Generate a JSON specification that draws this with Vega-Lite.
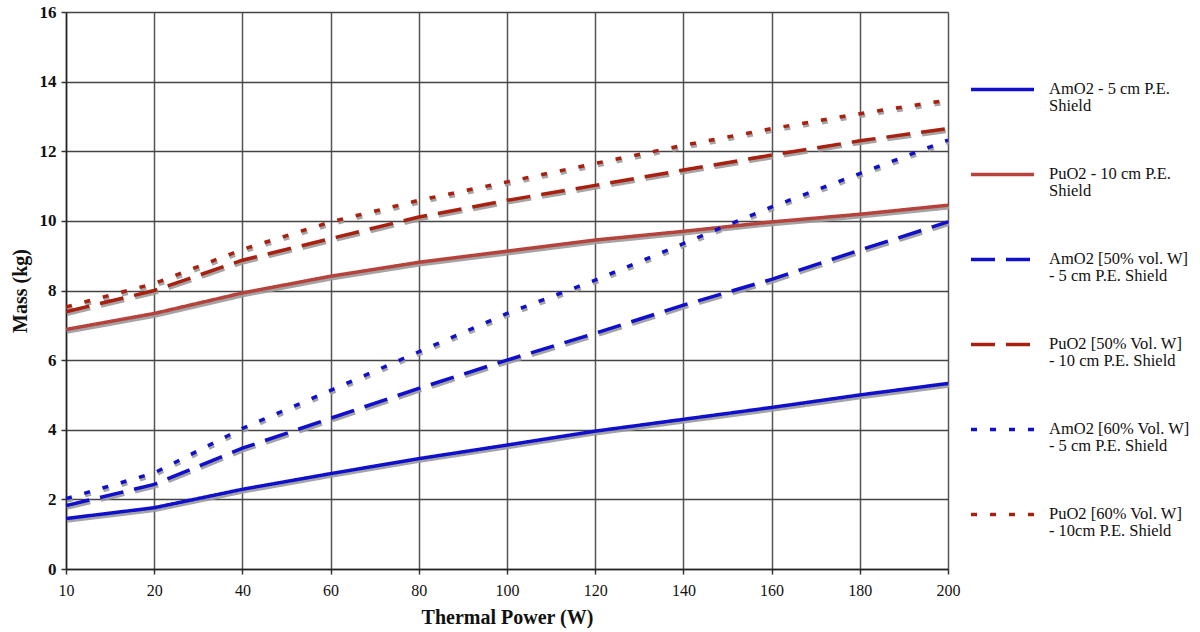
{
  "$schema": "https://vega.github.io/schema/vega-lite/v6.json",
  "width": 882,
  "height": 557,
  "autosize": {"type": "none"},
  "padding": {"left": 66, "top": 12, "right": 252, "bottom": 63},
  "background": "white",
  "config": {
    "font": "Liberation Serif",
    "view": {"stroke": null}
  },
  "data": {
    "values": [
      {"power": 10, "mass": 1.45, "series": "AmO2 - 5 cm P.E.|Shield"},
      {"power": 20, "mass": 1.76, "series": "AmO2 - 5 cm P.E.|Shield"},
      {"power": 40, "mass": 2.29, "series": "AmO2 - 5 cm P.E.|Shield"},
      {"power": 60, "mass": 2.74, "series": "AmO2 - 5 cm P.E.|Shield"},
      {"power": 80, "mass": 3.17, "series": "AmO2 - 5 cm P.E.|Shield"},
      {"power": 100, "mass": 3.56, "series": "AmO2 - 5 cm P.E.|Shield"},
      {"power": 120, "mass": 3.96, "series": "AmO2 - 5 cm P.E.|Shield"},
      {"power": 140, "mass": 4.3, "series": "AmO2 - 5 cm P.E.|Shield"},
      {"power": 160, "mass": 4.64, "series": "AmO2 - 5 cm P.E.|Shield"},
      {"power": 180, "mass": 5.0, "series": "AmO2 - 5 cm P.E.|Shield"},
      {"power": 200, "mass": 5.33, "series": "AmO2 - 5 cm P.E.|Shield"},
      {"power": 10, "mass": 6.88, "series": "PuO2 - 10 cm P.E.|Shield"},
      {"power": 20, "mass": 7.34, "series": "PuO2 - 10 cm P.E.|Shield"},
      {"power": 40, "mass": 7.93, "series": "PuO2 - 10 cm P.E.|Shield"},
      {"power": 60, "mass": 8.41, "series": "PuO2 - 10 cm P.E.|Shield"},
      {"power": 80, "mass": 8.81, "series": "PuO2 - 10 cm P.E.|Shield"},
      {"power": 100, "mass": 9.13, "series": "PuO2 - 10 cm P.E.|Shield"},
      {"power": 120, "mass": 9.45, "series": "PuO2 - 10 cm P.E.|Shield"},
      {"power": 140, "mass": 9.7, "series": "PuO2 - 10 cm P.E.|Shield"},
      {"power": 160, "mass": 9.97, "series": "PuO2 - 10 cm P.E.|Shield"},
      {"power": 180, "mass": 10.19, "series": "PuO2 - 10 cm P.E.|Shield"},
      {"power": 200, "mass": 10.45, "series": "PuO2 - 10 cm P.E.|Shield"},
      {"power": 10, "mass": 1.82, "series": "AmO2 [50% vol. W]|- 5 cm P.E. Shield"},
      {"power": 20, "mass": 2.43, "series": "AmO2 [50% vol. W]|- 5 cm P.E. Shield"},
      {"power": 40, "mass": 3.47, "series": "AmO2 [50% vol. W]|- 5 cm P.E. Shield"},
      {"power": 60, "mass": 4.33, "series": "AmO2 [50% vol. W]|- 5 cm P.E. Shield"},
      {"power": 80, "mass": 5.19, "series": "AmO2 [50% vol. W]|- 5 cm P.E. Shield"},
      {"power": 100, "mass": 6.0, "series": "AmO2 [50% vol. W]|- 5 cm P.E. Shield"},
      {"power": 120, "mass": 6.77, "series": "AmO2 [50% vol. W]|- 5 cm P.E. Shield"},
      {"power": 140, "mass": 7.58, "series": "AmO2 [50% vol. W]|- 5 cm P.E. Shield"},
      {"power": 160, "mass": 8.32, "series": "AmO2 [50% vol. W]|- 5 cm P.E. Shield"},
      {"power": 180, "mass": 9.16, "series": "AmO2 [50% vol. W]|- 5 cm P.E. Shield"},
      {"power": 200, "mass": 9.97, "series": "AmO2 [50% vol. W]|- 5 cm P.E. Shield"},
      {"power": 10, "mass": 7.39, "series": "PuO2 [50% Vol. W]|- 10 cm P.E. Shield"},
      {"power": 20, "mass": 8.0, "series": "PuO2 [50% Vol. W]|- 10 cm P.E. Shield"},
      {"power": 40, "mass": 8.87, "series": "PuO2 [50% Vol. W]|- 10 cm P.E. Shield"},
      {"power": 60, "mass": 9.49, "series": "PuO2 [50% Vol. W]|- 10 cm P.E. Shield"},
      {"power": 80, "mass": 10.11, "series": "PuO2 [50% Vol. W]|- 10 cm P.E. Shield"},
      {"power": 100, "mass": 10.59, "series": "PuO2 [50% Vol. W]|- 10 cm P.E. Shield"},
      {"power": 120, "mass": 11.02, "series": "PuO2 [50% Vol. W]|- 10 cm P.E. Shield"},
      {"power": 140, "mass": 11.46, "series": "PuO2 [50% Vol. W]|- 10 cm P.E. Shield"},
      {"power": 160, "mass": 11.89, "series": "PuO2 [50% Vol. W]|- 10 cm P.E. Shield"},
      {"power": 180, "mass": 12.3, "series": "PuO2 [50% Vol. W]|- 10 cm P.E. Shield"},
      {"power": 200, "mass": 12.65, "series": "PuO2 [50% Vol. W]|- 10 cm P.E. Shield"},
      {"power": 10, "mass": 2.02, "series": "AmO2 [60% Vol. W]|- 5 cm P.E. Shield"},
      {"power": 20, "mass": 2.76, "series": "AmO2 [60% Vol. W]|- 5 cm P.E. Shield"},
      {"power": 40, "mass": 4.04, "series": "AmO2 [60% Vol. W]|- 5 cm P.E. Shield"},
      {"power": 60, "mass": 5.13, "series": "AmO2 [60% Vol. W]|- 5 cm P.E. Shield"},
      {"power": 80, "mass": 6.24, "series": "AmO2 [60% Vol. W]|- 5 cm P.E. Shield"},
      {"power": 100, "mass": 7.34, "series": "AmO2 [60% Vol. W]|- 5 cm P.E. Shield"},
      {"power": 120, "mass": 8.3, "series": "AmO2 [60% Vol. W]|- 5 cm P.E. Shield"},
      {"power": 140, "mass": 9.35, "series": "AmO2 [60% Vol. W]|- 5 cm P.E. Shield"},
      {"power": 160, "mass": 10.4, "series": "AmO2 [60% Vol. W]|- 5 cm P.E. Shield"},
      {"power": 180, "mass": 11.36, "series": "AmO2 [60% Vol. W]|- 5 cm P.E. Shield"},
      {"power": 200, "mass": 12.32, "series": "AmO2 [60% Vol. W]|- 5 cm P.E. Shield"},
      {"power": 10, "mass": 7.53, "series": "PuO2 [60% Vol. W]|- 10cm P.E. Shield"},
      {"power": 20, "mass": 8.2, "series": "PuO2 [60% Vol. W]|- 10cm P.E. Shield"},
      {"power": 40, "mass": 9.18, "series": "PuO2 [60% Vol. W]|- 10cm P.E. Shield"},
      {"power": 60, "mass": 9.97, "series": "PuO2 [60% Vol. W]|- 10cm P.E. Shield"},
      {"power": 80, "mass": 10.59, "series": "PuO2 [60% Vol. W]|- 10cm P.E. Shield"},
      {"power": 100, "mass": 11.12, "series": "PuO2 [60% Vol. W]|- 10cm P.E. Shield"},
      {"power": 120, "mass": 11.65, "series": "PuO2 [60% Vol. W]|- 10cm P.E. Shield"},
      {"power": 140, "mass": 12.17, "series": "PuO2 [60% Vol. W]|- 10cm P.E. Shield"},
      {"power": 160, "mass": 12.65, "series": "PuO2 [60% Vol. W]|- 10cm P.E. Shield"},
      {"power": 180, "mass": 13.08, "series": "PuO2 [60% Vol. W]|- 10cm P.E. Shield"},
      {"power": 200, "mass": 13.47, "series": "PuO2 [60% Vol. W]|- 10cm P.E. Shield"}
    ]
  },
  "encoding": {
    "x": {
      "field": "power",
      "type": "ordinal",
      "scale": {"type": "point", "padding": 0},
      "axis": {
        "title": "Thermal Power (W)",
        "labelAngle": 0,
        "labelFont": "Liberation Serif",
        "labelFontSize": 16,
        "labelColor": "#111",
        "labelPadding": 8,
        "tickSize": 5,
        "tickColor": "#333",
        "tickWidth": 1.5,
        "domainColor": "#222",
        "domainWidth": 1.5,
        "gridColor": "#555",
        "gridWidth": 1.5,
        "gridOpacity": 1,
        "grid": true,
        "titleFont": "Liberation Serif",
        "titleFontSize": 20,
        "titleFontWeight": "bold",
        "titleColor": "#111",
        "titlePadding": 9
      }
    },
    "y": {
      "field": "mass",
      "type": "quantitative",
      "scale": {"domain": [0, 16], "nice": false},
      "axis": {
        "title": "Mass (kg)",
        "values": [0, 2, 4, 6, 8, 10, 12, 14, 16],
        "labelFont": "Liberation Serif",
        "labelFontSize": 17,
        "labelFontWeight": "bold",
        "labelColor": "#111",
        "labelPadding": 5,
        "tickSize": 5,
        "tickColor": "#333",
        "tickWidth": 1.5,
        "domainColor": "#222",
        "domainWidth": 1.5,
        "gridColor": "#444",
        "gridWidth": 1.5,
        "gridOpacity": 1,
        "grid": true,
        "titleFont": "Liberation Serif",
        "titleFontSize": 20,
        "titleFontWeight": "bold",
        "titleColor": "#111",
        "titlePadding": 9
      }
    }
  },
  "layer": [
    {
      "transform": [{"filter": {"field": "series", "oneOf": ["AmO2 - 5 cm P.E.|Shield", "PuO2 - 10 cm P.E.|Shield"]}}],
      "mark": {"type": "line", "strokeWidth": 3.5, "color": "#9a9a9a", "xOffset": 1, "yOffset": 2.5, "opacity": 0.9},
      "encoding": {"detail": {"field": "series"}}
    },
    {
      "transform": [{"filter": {"field": "series", "oneOf": ["AmO2 [50% vol. W]|- 5 cm P.E. Shield", "PuO2 [50% Vol. W]|- 10 cm P.E. Shield"]}}],
      "mark": {"type": "line", "strokeWidth": 3.5, "color": "#9a9a9a", "xOffset": 1, "yOffset": 2.5, "opacity": 0.9, "strokeDash": [24, 11]},
      "encoding": {"detail": {"field": "series"}}
    },
    {
      "transform": [{"filter": {"field": "series", "oneOf": ["AmO2 [60% Vol. W]|- 5 cm P.E. Shield", "PuO2 [60% Vol. W]|- 10cm P.E. Shield"]}}],
      "mark": {"type": "line", "strokeWidth": 3.5, "color": "#9a9a9a", "xOffset": 1, "yOffset": 2.5, "opacity": 0.9, "strokeDash": [6, 13]},
      "encoding": {"detail": {"field": "series"}}
    },
    {
      "mark": {"type": "line", "strokeWidth": 3.5},
      "encoding": {
        "color": {
          "field": "series",
          "type": "nominal",
          "scale": {
            "domain": [
              "AmO2 - 5 cm P.E.|Shield",
              "PuO2 - 10 cm P.E.|Shield",
              "AmO2 [50% vol. W]|- 5 cm P.E. Shield",
              "PuO2 [50% Vol. W]|- 10 cm P.E. Shield",
              "AmO2 [60% Vol. W]|- 5 cm P.E. Shield",
              "PuO2 [60% Vol. W]|- 10cm P.E. Shield"
            ],
            "range": ["#1010cc", "#b5433b", "#1010cc", "#a8200f", "#1010cc", "#a8200f"]
          },
          "legend": {
            "orient": "none",
            "legendX": 903,
            "legendY": 44,
            "title": null,
            "symbolType": "stroke",
            "symbolSize": 3969,
            "symbolStrokeWidth": 3.5,
            "labelFont": "Liberation Serif",
            "labelFontSize": 16.5,
            "labelColor": "#111",
            "labelOffset": 13,
            "labelLimit": 300,
            "labelBaseline": "top",
            "labelExpr": "split(datum.label, '|')",
            "rowPadding": 27,
            "encode": {"labels": {"update": {"dy": {"value": -9}, "lineHeight": {"value": 17}}}}
          }
        },
        "strokeDash": {
          "field": "series",
          "type": "nominal",
          "scale": {
            "domain": [
              "AmO2 - 5 cm P.E.|Shield",
              "PuO2 - 10 cm P.E.|Shield",
              "AmO2 [50% vol. W]|- 5 cm P.E. Shield",
              "PuO2 [50% Vol. W]|- 10 cm P.E. Shield",
              "AmO2 [60% Vol. W]|- 5 cm P.E. Shield",
              "PuO2 [60% Vol. W]|- 10cm P.E. Shield"
            ],
            "range": [[1, 0], [1, 0], [24, 11], [24, 11], [6, 13], [6, 13]]
          }
        }
      }
    }
  ]
}
